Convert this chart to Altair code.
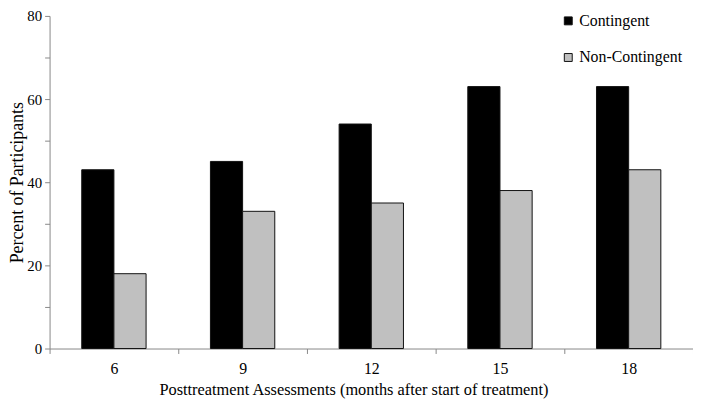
import altair as alt
import pandas as pd

months = ["6", "9", "12", "15", "18"]
contingent = [43, 45, 54, 63, 63]
non_contingent = [18, 33, 35, 38, 43]
groups = ["Contingent", "Non-Contingent"]

rows = []
for m, c, n in zip(months, contingent, non_contingent):
    rows.append({"month": m, "group": groups[0], "value": c})
    rows.append({"month": m, "group": groups[1], "value": n})
df = pd.DataFrame(rows)

font = "Liberation Serif, Times New Roman, serif"

chart = alt.Chart(df).mark_bar(stroke="#111111", strokeWidth=1).encode(
    x=alt.X("month:N", sort=months,
            scale=alt.Scale(paddingInner=0, paddingOuter=0),
            axis=alt.Axis(title="Posttreatment Assessments (months after start of treatment)",
                          labelAngle=0, tickBand="extent", domainColor="#888888",
                          tickColor="#888888", tickSize=5, labelPadding=7,
                          labelFontSize=16, titleFontSize=16.5, titleFontWeight="normal",
                          titlePadding=5, labelColor="black", titleColor="black",
                          titleX=307, titleAlign="center",
                          labelFont=font, titleFont=font)),
    xOffset=alt.XOffset("group:N", sort=groups,
                        scale=alt.Scale(paddingInner=0, paddingOuter=1)),
    y=alt.Y("value:Q", scale=alt.Scale(domain=[0, 80], nice=False),
            axis=alt.Axis(title="Percent of Participants", values=list(range(0, 81, 10)),
                          labelExpr="datum.value % 20 == 0 ? datum.label : ''",
                          grid=False, domainColor="#888888", tickColor="#888888",
                          tickSize=5, labelFontSize=15, titleFontSize=18, labelPadding=3,
                          titleFontWeight="normal", labelColor="black", titleColor="black",
                          labelFont=font, titleFont=font, titlePadding=0)),
    color=alt.Color("group:N", sort=groups,
                    scale=alt.Scale(domain=groups, range=["#000000", "#c0c0c0"]),
                    legend=alt.Legend(title=None, orient="none", legendX=516, legendY=-3,
                                      symbolType="square", symbolSize=64,
                                      symbolStrokeColor="#111111", symbolStrokeWidth=1,
                                      labelFont=font, labelFontSize=16, labelColor="black",
                                      rowPadding=21, labelOffset=3)),
).properties(
    width=650, height=336,
    autosize=alt.AutoSizeParams(type="none"),
    padding={"left": 42, "top": 6, "right": 0, "bottom": 50},
).configure(font=font).configure_view(stroke=None)

chart.save("out.html", embed_options={"renderer": "svg", "actions": False})
